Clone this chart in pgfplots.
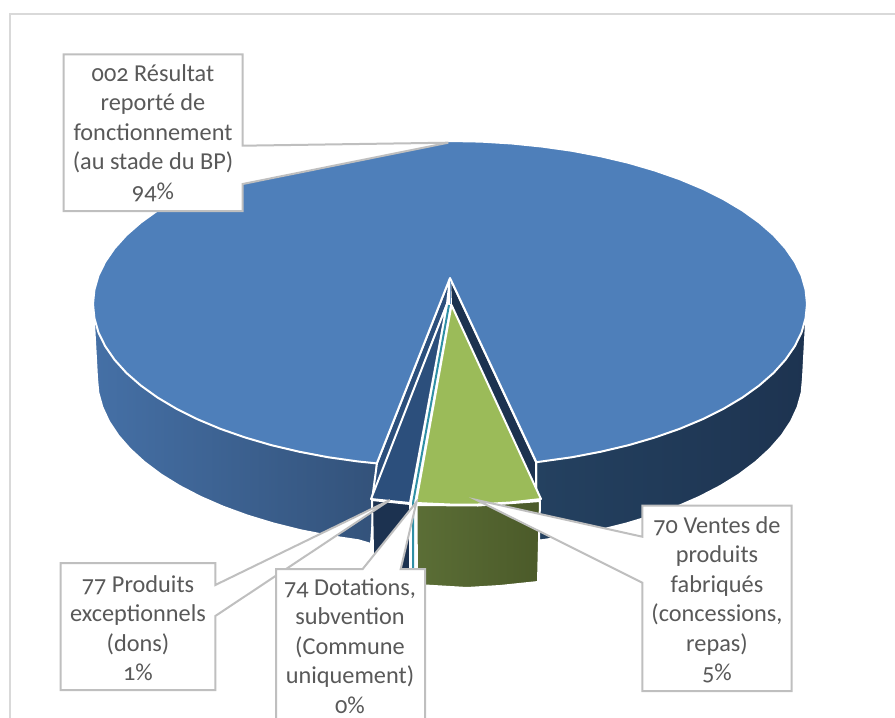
\documentclass[border=0pt]{standalone}
\usepackage{fontspec}
\setmainfont[Numbers=OldStyle]{Carlito}
\usepackage{pgfplots}
\pgfplotsset{compat=1.18}
\definecolor{framegray}{HTML}{D9D9D9}
\definecolor{calloutgray}{HTML}{BFBFBF}
\definecolor{labelgray}{HTML}{595959}
\definecolor{bluetop}{HTML}{4E7FBA}
\definecolor{bluemid}{HTML}{2C4F7C}
\definecolor{navy}{HTML}{1C3250}
\definecolor{teal74}{HTML}{2F8FA5}
\definecolor{green70}{HTML}{9BBB59}
\tikzset{
slice/.style={draw=white,line width=2pt,line join=round},
callout/.style={draw=calloutgray,fill=white,line width=2pt,line join=miter},
lab/.style={text=labelgray,align=center,font=\fontsize{24.3}{29.5}\selectfont,inner sep=0pt}
}
\begin{document}
\begin{tikzpicture}
\clip (0,0) rectangle (895pt,718pt);
\begin{axis}[
	width=895pt,height=718pt,scale only axis,
	xmin=0,xmax=895,ymin=0,ymax=718,
	y dir=reverse,
	hide axis]

% chart frame
\addplot[framegray,line width=2pt] coordinates {(10,718) (10,14) (895,14)};

% outer walls of the big slice
\addplot[slice,left color={rgb,255:red,69;green,112;blue,166},right color={rgb,255:red,51;green,82;blue,122}] coordinates {
	(93,304) (97,378) (98.3,392.6) (102.4,407.2) (109,421.5) (118.3,435.5) (130.1,449)
	(144.3,462) (160.8,474.4) (179.6,486) (200.4,496.8) (223.1,506.7) (247.5,515.6)
	(273.5,523.5) (300.8,530.3) (329.3,535.9) (358.6,540.3) (371,544) (377,463) (377,304)
} -- cycle;
\addplot[slice,left color={rgb,255:red,36;green,65;blue,96},right color={rgb,255:red,29;green,51;blue,80}] coordinates {
	(536,304) (807,304) (803,378) (801.7,392.6) (797.6,407.2) (791,421.5) (781.7,435.5)
	(769.9,449) (755.7,462) (739.2,474.4) (720.4,486) (699.6,496.8) (676.9,506.7)
	(652.5,515.6) (626.5,523.5) (599.2,530.3) (570.7,535.9) (541.4,540.3) (536,540) (536,462)
} -- cycle;

% cut faces in the notch
\addplot[slice,fill=navy] coordinates {(450,278) (536,462) (536,500) (451,305)} -- cycle;
\addplot[slice,fill=bluemid] coordinates {(450,278) (377,463) (372,500) (447,304)} -- cycle;
\addplot[color={rgb,255:red,110;green,150;blue,195},line width=0.8pt] coordinates {(450,280) (450,304)};

% top of the big slice
\addplot[slice,fill=bluetop] coordinates {
	(450,278) (536.4,462.2) (572.1,457.2) (600.9,451.7) (628.5,445.2) (654.8,437.5)
	(679.5,428.9) (702.4,419.3) (723.5,408.8) (742.5,397.5) (759.2,385.5) (773.6,372.9)
	(785.5,359.7) (794.8,346.2) (801.6,332.3) (805.6,318.2) (807,304)
	(805.6,289.8) (801.6,275.7) (794.8,261.8) (785.5,248.3) (773.6,235.1) (759.2,222.5)
	(742.5,210.5) (723.5,199.2) (702.4,188.7) (679.5,179.1) (654.8,170.5) (628.5,162.8)
	(600.9,156.3) (572.1,150.8) (542.4,146.6) (512,143.5) (481.1,141.6) (450,141)
	(418.9,141.6) (388,143.5) (357.6,146.6) (327.9,150.8) (299.1,156.3) (271.5,162.8)
	(245.2,170.5) (220.5,179.1) (197.6,188.7) (176.5,199.2) (157.5,210.5) (140.8,222.5)
	(126.4,235.1) (114.5,248.3) (105.2,261.8) (98.4,275.7) (94.4,289.8) (93,304)
	(94.4,318.2) (98.4,332.3) (105.2,346.2) (114.5,359.7) (126.4,372.9) (140.8,385.5)
	(157.5,397.5) (176.5,408.8) (197.6,419.3) (220.5,428.9) (245.2,437.5) (271.5,445.2)
	(299.1,451.7) (327.9,457.2) (357.6,461.4) (376.8,463.4)
} -- cycle;

% 77 Produits exceptionnels
\addplot[slice,fill=navy] coordinates {(372,500) (410,504) (410,600) (373,553)} -- cycle;
\addplot[slice,fill=bluemid] coordinates {(447,304) (371,499) (390,501) (410,503)} -- cycle;

% 74 Dotations, too thin to fill
\addplot[white,line width=5pt] coordinates {(449,305) (413,503) (413,600)};
\addplot[teal74,line width=2pt] coordinates {(449,305) (413,503) (413,600)};

% 70 Ventes
\addplot[slice,left color={rgb,255:red,91;green,110;blue,54},right color={rgb,255:red,75;green,90;blue,41}] coordinates {
	(416.5,505) (478,505.5) (540,501) (538,582) (500,586) (467,588) (417,585)
} -- cycle;
\addplot[slice,fill=green70] coordinates {(451.5,305) (416,503) (450,504.5) (478,504.5) (510,502.5) (541,499)} -- cycle;

% callouts
\addplot[callout] coordinates {(63.5,54.3) (242.7,54.3) (242.7,145.7) (448.3,142.7) (242.7,184) (242.7,211) (63.5,211)} -- cycle;
\addplot[callout] coordinates {(60.7,563) (215.3,563) (215.3,585) (390,500) (215.3,616) (215.3,690) (60.7,690)} -- cycle;
\addplot[callout] coordinates {(276,569) (362.7,569) (416.5,502) (400.7,569) (425,569) (425,735) (276,735)} -- cycle;
\addplot[callout] coordinates {(642.3,505.7) (791.7,505.7) (791.7,691) (642.3,691) (642.3,582.7) (476.7,500) (642.3,536.7)} -- cycle;

\node[lab] at (axis cs:153,133) {002 Résultat\\reporté de\\fonctionnement\\(au stade du BP)\\94\%};
\node[lab] at (axis cs:138,628) {77 Produits\\exceptionnels\\(dons)\\1\%};
\node[lab] at (axis cs:350,646) {74 Dotations,\\subvention\\(Commune\\uniquement)\\0\%};
\node[lab] at (axis cs:717,600) {70 Ventes de\\produits\\fabriqués\\(concessions,\\repas)\\5\%};

\end{axis}
\end{tikzpicture}
\end{document}
